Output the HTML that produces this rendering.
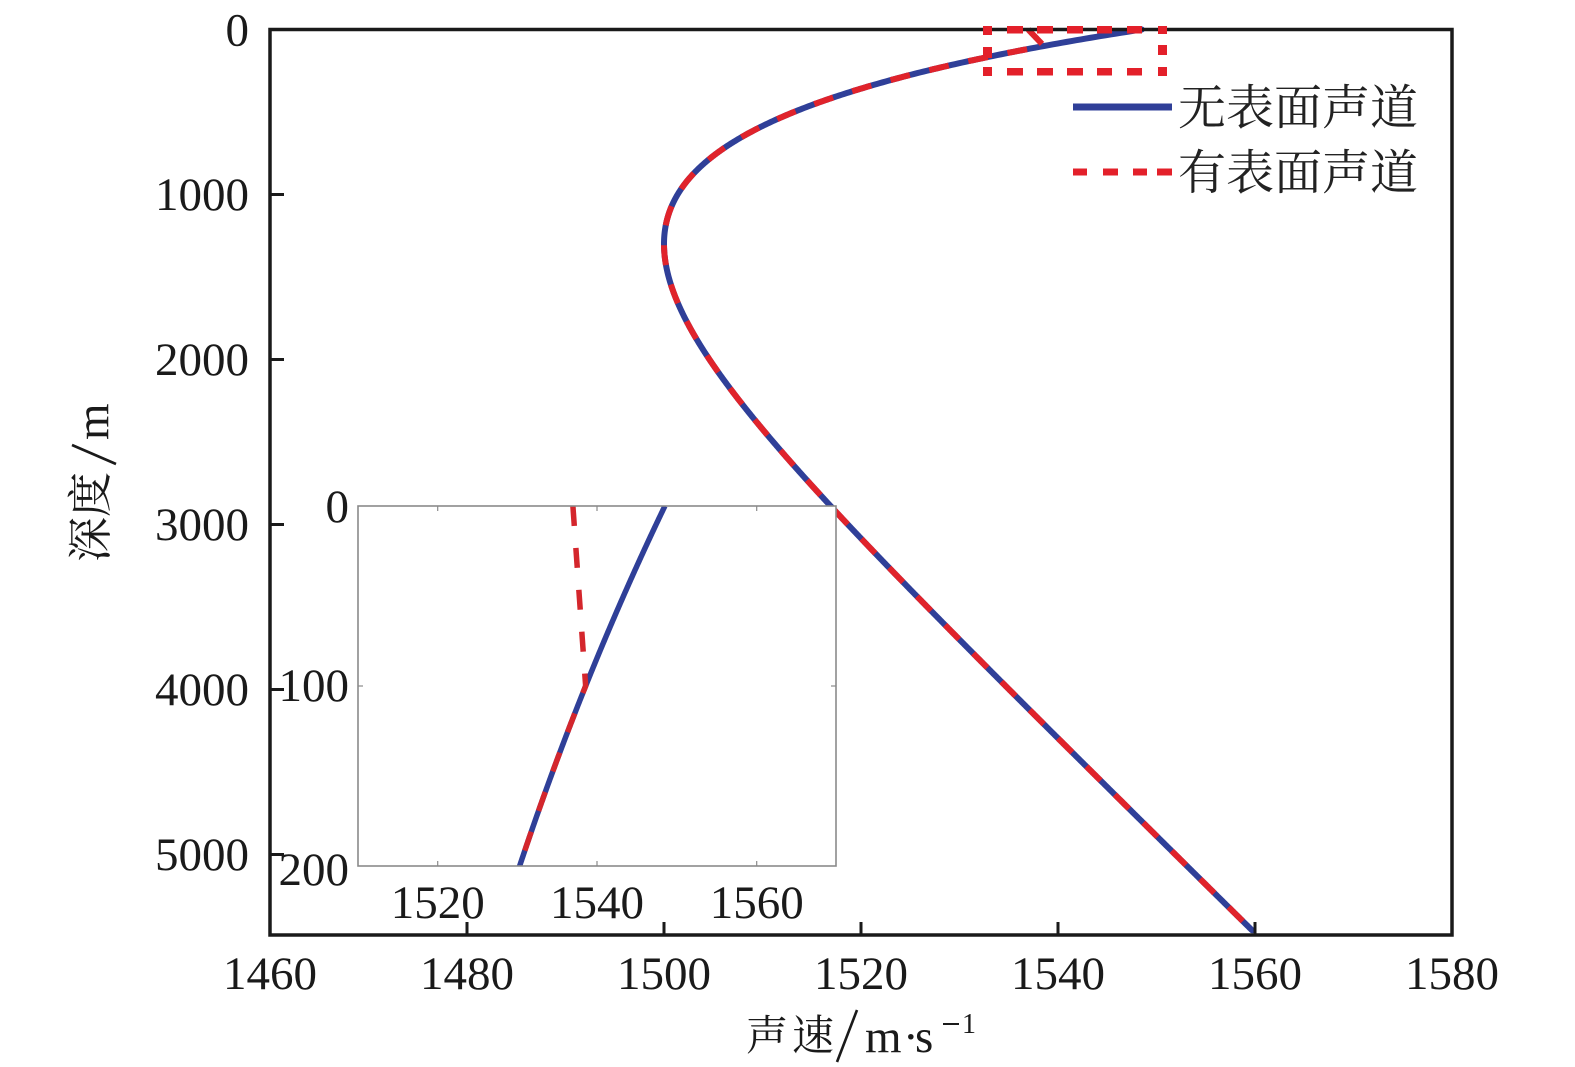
<!DOCTYPE html>
<html>
<head>
<meta charset="utf-8">
<style>
  html,body{margin:0;padding:0;background:#fff;}
  svg{display:block;}
  .t{font-family:"Liberation Serif","Noto Serif CJK SC",serif;fill:#1a1a1a;}
</style>
</head>
<body>
<svg id="s" width="1575" height="1067" viewBox="0 0 1575 1067" xmlns="http://www.w3.org/2000/svg">
  <rect x="0" y="0" width="1575" height="1067" fill="#fff"/>
  <defs>
    <clipPath id="ic"><rect x="358" y="506" width="478" height="360"/></clipPath>
  </defs>

  <!-- main curves -->
  <path id="mb" d="" fill="none" stroke="#2f3f98" stroke-width="6" stroke-linecap="round" stroke-linejoin="round"/>
  <path id="mr" d="" fill="none" stroke="#e0232b" stroke-width="6" stroke-dasharray="20 20" stroke-linejoin="round"/>

  <!-- main frame -->
  <rect x="270" y="29.5" width="1182" height="905.5" fill="none" stroke="#1a1a1a" stroke-width="3.5"/>
  <g stroke="#1a1a1a" stroke-width="3">
    <line x1="467" y1="935" x2="467" y2="922"/>
    <line x1="664" y1="935" x2="664" y2="922"/>
    <line x1="861" y1="935" x2="861" y2="922"/>
    <line x1="1058" y1="935" x2="1058" y2="922"/>
    <line x1="1255" y1="935" x2="1255" y2="922"/>
    <line x1="270" y1="194.5" x2="284" y2="194.5"/>
    <line x1="270" y1="359.5" x2="284" y2="359.5"/>
    <line x1="270" y1="524.5" x2="284" y2="524.5"/>
    <line x1="270" y1="689.5" x2="284" y2="689.5"/>
    <line x1="270" y1="854.5" x2="284" y2="854.5"/>
  </g>

  <!-- main tick labels -->
  <g class="t" font-size="47" text-anchor="middle">
    <text x="270" y="989">1460</text>
    <text x="467" y="989">1480</text>
    <text x="664" y="989">1500</text>
    <text x="861" y="989">1520</text>
    <text x="1058" y="989">1540</text>
    <text x="1255" y="989">1560</text>
    <text x="1452" y="989">1580</text>
  </g>
  <g class="t" font-size="47" text-anchor="end">
    <text x="249" y="45.5">0</text>
    <text x="249" y="210">1000</text>
    <text x="249" y="375">2000</text>
    <text x="249" y="540">3000</text>
    <text x="249" y="705">4000</text>
    <text x="249" y="870">5000</text>
  </g>

  <!-- inset -->
  <rect x="358" y="506" width="478" height="360" fill="#fff"/>
  <g clip-path="url(#ic)">
    <path id="ib" d="" fill="none" stroke="#2f3f98" stroke-width="5.5" stroke-linecap="butt"/>
    <path id="ir" d="" fill="none" stroke="#d4262c" stroke-width="5.5" stroke-dasharray="20 22"/>
  </g>
  <rect x="358" y="506" width="478" height="360" fill="none" stroke="#8a8a8a" stroke-width="1.6"/>
  <g stroke="#8a8a8a" stroke-width="1.2">
    <line x1="437.7" y1="866" x2="437.7" y2="861"/>
    <line x1="597" y1="866" x2="597" y2="861"/>
    <line x1="756.7" y1="866" x2="756.7" y2="861"/>
    <line x1="437.7" y1="506" x2="437.7" y2="511"/>
    <line x1="597" y1="506" x2="597" y2="511"/>
    <line x1="756.7" y1="506" x2="756.7" y2="511"/>
    <line x1="358" y1="686" x2="363" y2="686"/>
    <line x1="836" y1="686" x2="831" y2="686"/>
  </g>
  <g class="t" font-size="47" text-anchor="middle">
    <text x="437.7" y="918">1520</text>
    <text x="597" y="918">1540</text>
    <text x="756.7" y="918">1560</text>
  </g>
  <g class="t" font-size="47" text-anchor="end">
    <text x="349" y="522">0</text>
    <text x="349" y="701">100</text>
    <text x="349" y="885">200</text>
  </g>

  <!-- red dashed zoom rectangle -->
  <g fill="#e3202a">
    <rect x="983" y="26" width="9" height="7.5"/>
    <rect x="1007" y="26" width="16" height="7.5"/>
    <rect x="1037" y="26" width="16" height="7.5"/>
    <rect x="1067" y="26" width="16" height="7.5"/>
    <rect x="1097" y="26" width="15" height="7.5"/>
    <rect x="1127" y="26" width="15" height="7.5"/>
    <rect x="1158" y="26" width="9" height="7.5"/>
    <rect x="983" y="68" width="9" height="7.5"/>
    <rect x="1007" y="68" width="16" height="7.5"/>
    <rect x="1037" y="68" width="16" height="7.5"/>
    <rect x="1067" y="68" width="16" height="7.5"/>
    <rect x="1097" y="68" width="15" height="7.5"/>
    <rect x="1127" y="68" width="15" height="7.5"/>
    <rect x="1158" y="68" width="9" height="7.5"/>
    <rect x="983" y="26" width="9" height="9"/>
    <rect x="983" y="47" width="9" height="11"/>
    <rect x="983" y="67" width="9" height="9"/>
    <rect x="1158" y="26" width="9" height="8"/>
    <rect x="1158" y="45" width="9" height="10"/>
    <rect x="1158" y="67" width="9" height="9"/>
  </g>

  <!-- legend -->
  <line x1="1073" y1="107" x2="1172" y2="107" stroke="#2f3f98" stroke-width="7"/>
  <g fill="#e3202a">
    <rect x="1073" y="168.5" width="14" height="7"/>
    <rect x="1103" y="168.5" width="15" height="7"/>
    <rect x="1133" y="168.5" width="14" height="7"/>
    <rect x="1157" y="168.5" width="15" height="7"/>
  </g>
  <g font-family="'Noto Serif CJK SC','Noto Sans CJK SC',serif" font-size="48" fill="#222">
    <text x="1178" y="124">无表面声道</text>
    <text x="1178" y="189">有表面声道</text>
  </g>

  <!-- x axis label -->
  <g fill="#1a1a1a">
    <text x="746" y="1050" font-family="'Noto Serif CJK SC','Noto Sans CJK SC',serif" font-size="42">声</text>
    <text x="792" y="1050" font-family="'Noto Serif CJK SC','Noto Sans CJK SC',serif" font-size="42">速</text>
    <line x1="837" y1="1062" x2="857" y2="1010" stroke="#1a1a1a" stroke-width="2.6"/>
    <text x="865" y="1052" font-family="'Liberation Serif',serif" font-size="47">m</text>
    <text x="903" y="1052" font-family="'Liberation Serif',serif" font-size="47">·</text>
    <text x="915" y="1052" font-family="'Liberation Serif',serif" font-size="47">s</text>
    <line x1="943" y1="1024" x2="959" y2="1024" stroke="#1a1a1a" stroke-width="2"/>
    <text x="962" y="1033" font-family="'Liberation Serif',serif" font-size="28">1</text>
  </g>

  <!-- y axis label -->
  <g transform="translate(108,562) rotate(-90)" fill="#1a1a1a">
    <text x="0" y="-2" font-family="'Noto Serif CJK SC','Noto Sans CJK SC',serif" font-size="45">深</text>
    <text x="45" y="-2" font-family="'Noto Serif CJK SC','Noto Sans CJK SC',serif" font-size="45">度</text>
    <text x="122" y="0" font-family="'Liberation Serif',serif" font-size="47">m</text>
  </g>
  <line x1="116" y1="464" x2="72" y2="445" stroke="#1a1a1a" stroke-width="2.6"/>
</svg>
<script>
(function(){
  function munk(z){var e=2*(z-1300)/1300;return 1500*(1+0.00737*(e-1+Math.exp(-e)));}
  var m100=munk(100);
  function duct(z){return z<100? m100-0.016*(100-z) : munk(z);}
  function MX(c){return 270+(c-1460)*9.85;}
  function MY(z){return 29.5+z*0.165;}
  function IX(c){return 358+(c-1510)*7.967;}
  function IY(z){return 506+z*1.8;}
  function build(f,X,Y,z0,z1,st){
    var d='';
    for(var z=z0;z<=z1+1e-9;z+=st){
      d+=(d?'L':'M')+X(f(z)).toFixed(2)+' '+Y(z).toFixed(2);
    }
    return d;
  }
  document.getElementById('mb').setAttribute('d',build(munk,MX,MY,0,5460,5));
  document.getElementById('mr').setAttribute('d',build(duct,MX,MY,0,5460,5));
  document.getElementById('ib').setAttribute('d',build(munk,IX,IY,0,202,1));
  document.getElementById('ir').setAttribute('d',build(duct,IX,IY,0,202,1));
})();
</script>
</body>
</html>
